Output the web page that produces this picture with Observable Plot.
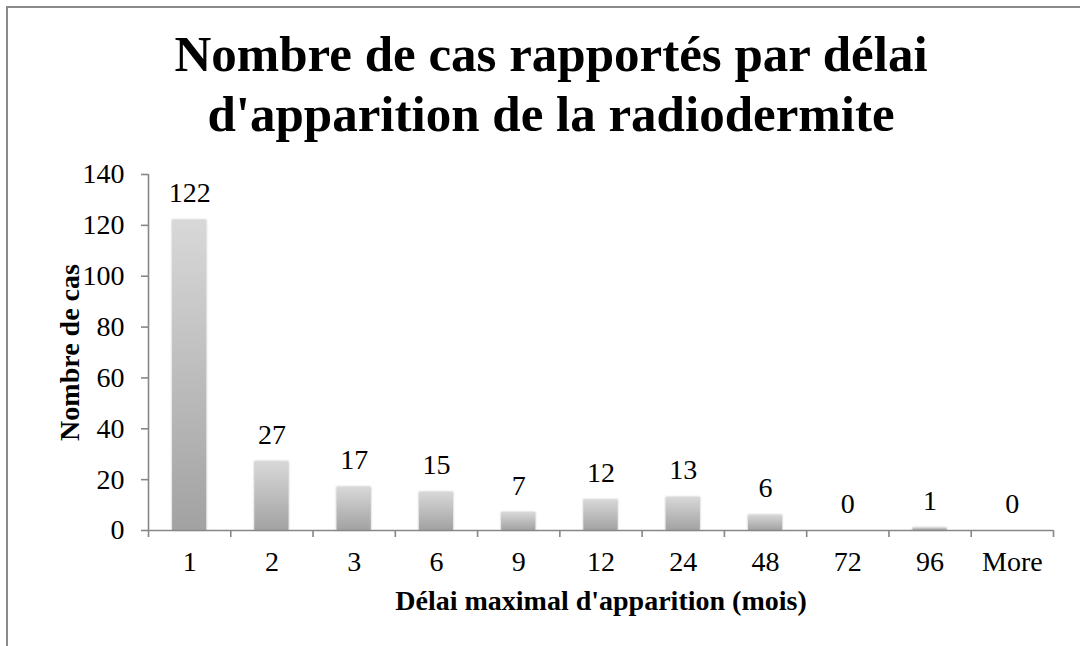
<!DOCTYPE html>
<html>
<head>
<meta charset="utf-8">
<script src="https://cdn.jsdelivr.net/npm/d3@7"></script>
<script src="https://cdn.jsdelivr.net/npm/@observablehq/plot@0.6"></script>
<style>
  html, body { margin: 0; padding: 0; background: #fff; }
  #wrap { position: relative; width: 1080px; height: 646px; overflow: hidden; background: #fff; }
  #border { position: absolute; left: 6px; top: 6px; width: 1100px; height: 700px;
            border-top: 2px solid #8a8a8a; border-left: 2px solid #8a8a8a; pointer-events: none; }
  #title { height: 150px; box-sizing: border-box; padding-top: 24px; padding-left: 22px;
           text-align: center; font-family: "Liberation Serif", serif; font-weight: bold;
           font-size: 51px; line-height: 60px; color: #000; }
  #chart svg { display: block; }
</style>
</head>
<body>
<div id="wrap">
  <div id="title">Nombre de cas rapportés par délai<br>d'apparition de la radiodermite</div>
  <div id="chart"></div>
  <div id="border"></div>
</div>
<script>
const categories = ["1", "2", "3", "6", "9", "12", "24", "48", "72", "96", "More"];
const counts = [122, 27, 17, 15, 7, 12, 13, 6, 0, 1, 0];
const yTicks = [0, 20, 40, 60, 80, 100, 120, 140];
const xTitle = "Délai maximal d'apparition (mois)";
const yTitle = "Nombre de cas";

const data = categories.map((c, i) => ({category: c, index: i, count: counts[i]}));
const halfBar = 0.207;
const axisGray = "#878787";
const font = "Liberation Serif";

const defs = () => {
  const d = d3.create("svg:defs");
  const g = d.append("linearGradient").attr("id", "barGrad")
    .attr("x1", 0).attr("y1", 0).attr("x2", 0).attr("y2", 1);
  g.append("stop").attr("offset", "0%").attr("stop-color", "#d8d8d8");
  g.append("stop").attr("offset", "100%").attr("stop-color", "#a2a2a2");
  const f = d.append("filter").attr("id", "soft")
    .attr("x", "-30%").attr("y", "-30%").attr("width", "160%").attr("height", "160%");
  f.append("feDropShadow").attr("dx", 0).attr("dy", 0).attr("stdDeviation", 1.3)
    .attr("flood-color", "#777").attr("flood-opacity", 0.55);
  return d.node();
};

const chart = Plot.plot({
  width: 1080,
  height: 496,
  marginTop: 24,
  marginBottom: 116,
  marginLeft: 148,
  marginRight: 27,
  style: {fontFamily: font, fontSize: "28px", color: "#000", background: "transparent"},
  x: {type: "linear", domain: [0, categories.length], axis: null},
  y: {domain: [0, 140], axis: null},
  marks: [
    defs,
    Plot.rectY(data, {
      x1: d => d.index + 0.5 - halfBar,
      x2: d => d.index + 0.5 + halfBar,
      y: "count",
      fill: "url(#barGrad)"
    }),
    Plot.ruleX([0], {stroke: axisGray, strokeWidth: 1.6}),
    Plot.ruleY([0], {stroke: axisGray, strokeWidth: 1.6}),
    Plot.axisY(yTicks, {
      tickSize: 7, tickPadding: 17, stroke: axisGray, strokeWidth: 1.6,
      fontSize: 28, fill: "#000", label: null
    }),
    Plot.axisX(d3.range(categories.length + 1), {
      tickSize: 7, stroke: axisGray, strokeWidth: 1.6, tickFormat: () => "", label: null
    }),
    Plot.axisX(data.map(d => d.index + 0.5), {
      tickSize: 0, tickPadding: 21, fontSize: 28, fill: "#000",
      tickFormat: v => categories[Math.floor(v)], label: null
    }),
    Plot.text(data, {
      x: d => d.index + 0.5, y: "count", text: d => String(d.count),
      lineAnchor: "bottom", dy: -18, fontSize: 28, fill: "#000"
    }),
    Plot.text([xTitle], {
      frameAnchor: "bottom", lineAnchor: "bottom", textAnchor: "middle", dy: 79, text: d => d,
      fontSize: 28, fontWeight: "bold", fill: "#000"
    }),
    Plot.text([yTitle], {
      frameAnchor: "left", lineAnchor: "bottom", textAnchor: "middle", rotate: -90, dx: -70, text: d => d,
      fontSize: 28, fontWeight: "bold", fill: "#000"
    })
  ]
});

d3.select(chart).selectAll('g[aria-label="rect"]').attr("filter", "url(#soft)");
document.getElementById("chart").appendChild(chart);
</script>
</body>
</html>
